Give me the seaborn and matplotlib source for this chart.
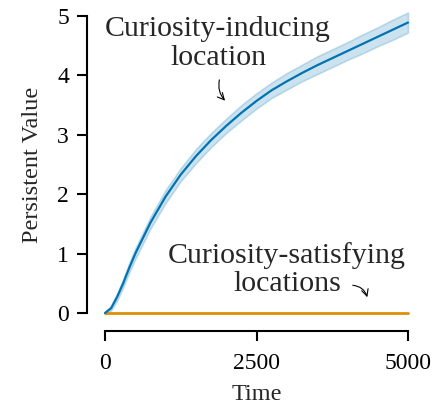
import numpy as np
import pandas as pd
import matplotlib
matplotlib.use("Agg")
import matplotlib.pyplot as plt
import seaborn as sns

# values
time = [0, 100, 200, 300, 400, 500, 750, 1000, 1250, 1500, 1750, 2000, 2250, 2500,
        2750, 3000, 3250, 3500, 3750, 4000, 4250, 4500, 4750, 5000]
inducing = [0.0, 0.08, 0.27, 0.50, 0.76, 1.00, 1.52, 1.96, 2.33, 2.64, 2.91, 3.15, 3.37, 3.57,
            3.75, 3.90, 4.04, 4.17, 4.29, 4.41, 4.53, 4.65, 4.77, 4.89]
spread = [0.02, 0.04, 0.06, 0.07, 0.08, 0.09, 0.10, 0.11, 0.11, 0.12, 0.12, 0.12, 0.13, 0.13,
          0.13, 0.14, 0.14, 0.15, 0.15, 0.15, 0.16, 0.16, 0.17, 0.17]
satisfying = [0.0] * len(time)

df = pd.DataFrame({"Time": time, "inducing": inducing, "spread": spread,
                   "satisfying": satisfying})

sns.set_theme(style="ticks")
plt.rcParams["font.family"] = ["Liberation Serif", "DejaVu Serif"]

pal = sns.color_palette("colorblind")
blue, orange = pal[0], pal[1]

fig = plt.figure(figsize=(4.48, 4.04), dpi=100)
ax = fig.add_axes([105 / 448, 91 / 404, 303 / 448, 297 / 404])

lo = df["inducing"] - df["spread"]
hi = df["inducing"] + df["spread"]
ax.fill_between(df["Time"], lo, hi, color=blue, alpha=0.2, lw=1.2, clip_on=False)
sns.lineplot(data=df, x="Time", y="satisfying", color=orange, lw=2, ax=ax, clip_on=False)
sns.lineplot(data=df, x="Time", y="inducing", color=blue, lw=1.6, ax=ax, clip_on=False)

ax.set_xlim(0, 5000)
ax.set_ylim(0, 5)
ax.set_xticks([0, 2500, 5000])
ax.set_yticks([0, 1, 2, 3, 4, 5])
ax.tick_params(labelsize=17, length=7, width=1.5, colors="black")
ax.tick_params(axis="x", pad=9)
ax.tick_params(axis="y", pad=6)
ax.set_xlabel("Time", fontsize=17.5, labelpad=7)
ax.set_ylabel("Persistent Value", fontsize=17.5, labelpad=10)

sns.despine(ax=ax, offset=13, trim=True)
for s in ["left", "bottom"]:
    ax.spines[s].set_linewidth(1.5)
    ax.spines[s].set_color("black")

ax.text(1865, 4.54, "Curiosity-inducing\nlocation", fontsize=21.5, ha="center",
        va="center", linespacing=1.12)
ax.text(3003, 0.74, "Curiosity-satisfying\nlocations", fontsize=21.5, ha="center",
        va="center", linespacing=1.1)

ax.annotate("", xy=(2013, 3.54), xytext=(1898, 3.97),
            arrowprops=dict(arrowstyle="->", color="black", lw=0.8,
                            connectionstyle="arc3,rad=0.3"))
ax.annotate("", xy=(4340, 0.22), xytext=(4043, 0.47),
            arrowprops=dict(arrowstyle="->", color="black", lw=0.8,
                            connectionstyle="arc3,rad=-0.4"))

fig.savefig("out.png", dpi=100)
